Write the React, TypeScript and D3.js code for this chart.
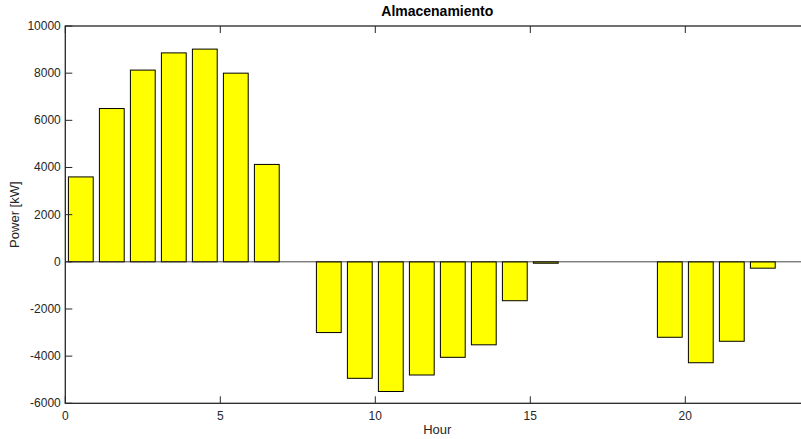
import React from "react";
import * as d3 from "d3";

const hours = [0.5, 1.5, 2.5, 3.5, 4.5, 5.5, 6.5, 7.5, 8.5, 9.5, 10.5, 11.5, 12.5, 13.5, 14.5, 15.5, 16.5, 17.5, 18.5, 19.5, 20.5, 21.5, 22.5, 23.5];
const power = [3600, 6500, 8130, 8860, 9020, 8000, 4130, 0, -3000, -4940, -5500, -4800, -4050, -3520, -1650, -60, 0, 0, 0, -3200, -4280, -3370, -270, 0];
const xTicks = [0, 5, 10, 15, 20];
const yTicks = [-6000, -4000, -2000, 0, 2000, 4000, 6000, 8000, 10000];
const title = "Almacenamiento";
const xLabel = "Hour";
const yLabel = "Power [kW]";

export default function App() {
  const W = 801, H = 439;
  const left = 65.3, right = 809.3, top = 26, bottom = 403.3;
  const x = d3.scaleLinear().domain([0, 24]).range([left, right]);
  const y = d3.scaleLinear().domain([-6000, 10000]).range([bottom, top]);
  const bw = 0.8;
  const axisColor = "#262626";
  const font = "Arial, 'Liberation Sans', Helvetica, sans-serif";
  return (
    <div style={{ position: "absolute", left: 0, top: 0, width: W, height: H, overflow: "hidden", background: "#fff" }}>
      <svg width={W} height={H} style={{ display: "block" }}>
        <rect x={0} y={0} width={W} height={H} fill="#fff" />
        {hours.map((h, i) => {
          const v = power[i];
          const x0 = x(h - bw / 2), x1 = x(h + bw / 2);
          const y0 = y(Math.max(0, v)), y1 = y(Math.min(0, v));
          return (
            <rect key={i} x={x0} y={y0} width={x1 - x0} height={Math.max(0, y1 - y0)}
              fill="#ffff00" stroke="#000" strokeWidth={1} />
          );
        })}
        <line x1={left} x2={right} y1={y(0)} y2={y(0)} stroke={axisColor} strokeWidth={1} strokeOpacity={0.85} />
        <rect x={left} y={top} width={right - left} height={bottom - top} fill="none" stroke={axisColor} strokeWidth={1.3} />
        {xTicks.map((t) => (
          <g key={"x" + t}>
            <line x1={x(t)} x2={x(t)} y1={bottom} y2={bottom - 7} stroke={axisColor} />
            <line x1={x(t)} x2={x(t)} y1={top} y2={top + 7} stroke={axisColor} />
            <text x={x(t)} y={bottom + 17} textAnchor="middle" fontFamily={font} fontSize={12} fill={axisColor}>{t}</text>
          </g>
        ))}
        {yTicks.map((t) => (
          <g key={"y" + t}>
            <line x1={left} x2={left + 7} y1={y(t)} y2={y(t)} stroke={axisColor} />
            <line x1={right} x2={right - 7} y1={y(t)} y2={y(t)} stroke={axisColor} />
            <text x={left - 4.5} y={y(t) + 4} textAnchor="end" fontFamily={font} fontSize={12} fill={axisColor}>{t}</text>
          </g>
        ))}
        <text x={(left + right) / 2} y={15.5} textAnchor="middle" fontFamily={font} fontSize={14} fontWeight="bold" fill="#000">{title}</text>
        <text x={(left + right) / 2} y={434} textAnchor="middle" fontFamily={font} fontSize={13} fill={axisColor}>{xLabel}</text>
        <text transform={`translate(19,${(top + bottom) / 2}) rotate(-90)`} textAnchor="middle" fontFamily={font} fontSize={13} fill={axisColor}>{yLabel}</text>
      </svg>
    </div>
  );
}
